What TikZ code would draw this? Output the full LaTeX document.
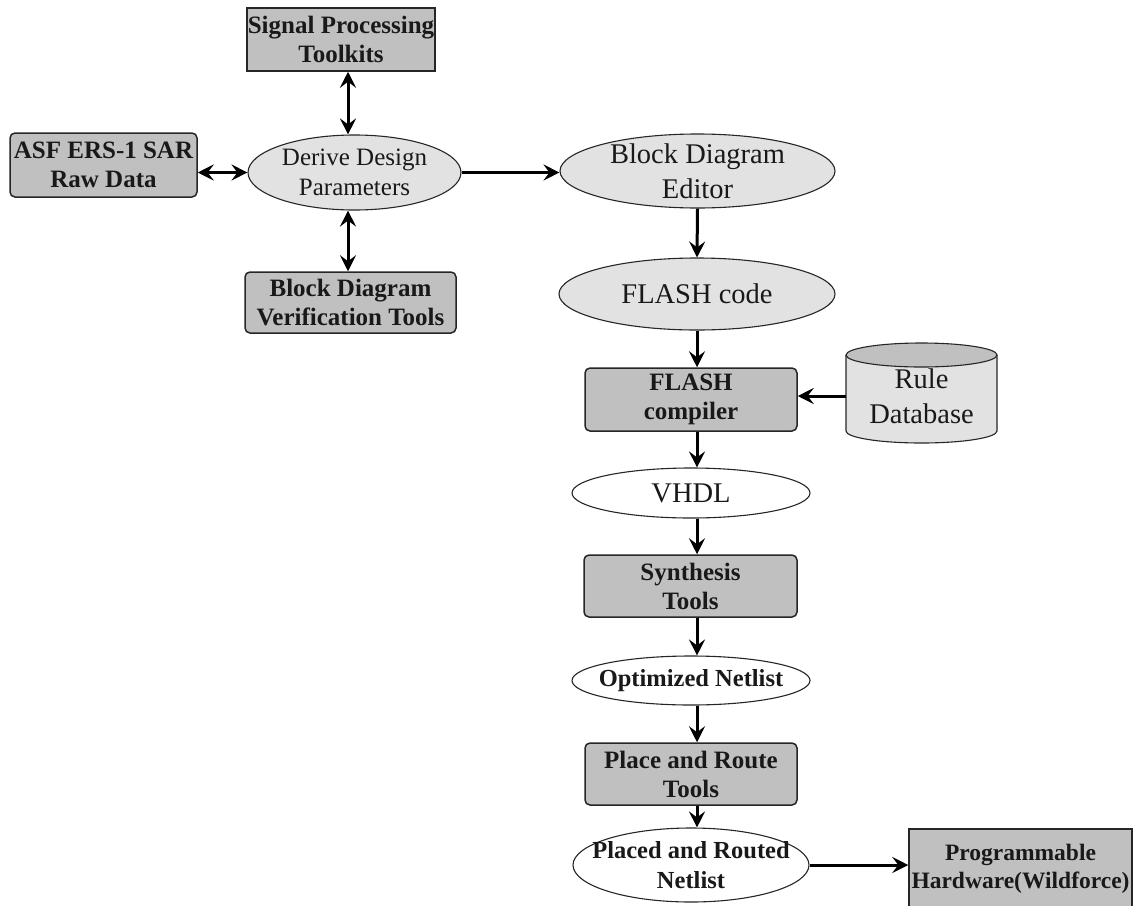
\documentclass[tikz,border=0pt]{standalone}
\usepackage{fontspec}
\setmainfont{Liberation Serif}
\usetikzlibrary{shapes.geometric,arrows.meta}
\definecolor{boxgray}{RGB}{192,192,192}
\definecolor{dotgray}{RGB}{226,226,226}
\begin{document}
\begin{tikzpicture}[x=1pt,y=-1pt,
  box/.style={draw=black!85, line width=1.5pt, fill=boxgray, rounded corners=5pt,
    align=center, inner sep=0pt, text=black!90,
    font=\fontsize{25}{29}\selectfont\bfseries},
  sqbox/.style={box, rounded corners=0pt},
  oval/.style={ellipse, draw=black!85, line width=1.1pt, inner sep=0pt, fill=white},
  shaded/.style={fill=dotgray},
  labreg/.style={align=center, text=black!90, font=\fontsize{25}{30}\selectfont},
  lablarge/.style={align=center, text=black!90, font=\fontsize{28.5}{35}\selectfont},
  labbold/.style={align=center, text=black!90, font=\fontsize{24.5}{30}\selectfont\bfseries},
  tip/.tip={Stealth[length=16pt,width=16pt,inset=6pt]},
  arr/.style={line width=3pt, -tip},
  biarr/.style={line width=3pt, tip-tip},
]
\useasboundingbox (0,0) rectangle (1134,905);

% design-parameter cluster
\node[sqbox, minimum width=188pt, minimum height=63pt] (sig) at (341,39.5)
  {Signal Processing\\Toolkits};
\node[box, minimum width=187pt, minimum height=64pt] (asf) at (103.5,165)
  {ASF ERS-1 SAR\\Raw Data};
\node[oval, shaded, minimum width=213pt, minimum height=75pt,
  label={[labreg]center:{Derive Design\\Parameters}}] (derive) at (354.5,172.5) {};
\node[box, minimum width=211pt, minimum height=61pt] (bdv) at (350.5,302.5)
  {Block Diagram\\Verification Tools};

% main tool flow
\node[oval, shaded, minimum width=275pt, minimum height=74pt,
  label={[lablarge]center:{Block Diagram\\Editor}}] (editor) at (697.5,171) {};
\node[oval, shaded, minimum width=276pt, minimum height=72pt,
  label={[lablarge]center:{FLASH code}}] (flashcode) at (697,294) {};
\node[box, minimum width=212pt, minimum height=63pt] (flashcomp) at (691,399.5)
  {FLASH\\compiler};

% rule database cylinder
\fill[dotgray] (846,355) -- (846,431)
  arc[start angle=180, end angle=0, x radius=75.5, y radius=12] -- (997,355) -- cycle;
\draw[line width=1.1pt, draw=black!85] (846,355) -- (846,431)
  arc[start angle=180, end angle=0, x radius=75.5, y radius=12] -- (997,355);
\draw[line width=1.1pt, draw=black!85, fill=boxgray] (921.5,355) ellipse[x radius=75.5, y radius=12];
\node[lablarge, minimum width=151pt, inner sep=0pt] (rule) at (921.5,396)
  {Rule\\Database};

\node[oval, minimum width=238pt, minimum height=50pt,
  label={[lablarge]center:{VHDL}}] (vhdl) at (691,493) {};
\node[box, minimum width=213pt, minimum height=62pt] (synth) at (690.5,586)
  {Synthesis\\Tools};
\node[oval, minimum width=238pt, minimum height=49pt,
  label={[labbold]center:{Optimized Netlist}}] (opt) at (691,680.5) {};
\node[box, minimum width=212pt, minimum height=62pt] (place) at (691,774)
  {Place and Route\\Tools};
\node[oval, minimum width=236pt, minimum height=74pt,
  label={[labbold]center:{Placed and Routed\\Netlist}}] (placed) at (691,865) {};
\node[sqbox, minimum width=223pt, minimum height=80pt,
  font=\fontsize{23.5}{28}\selectfont\bfseries] (prog) at (1020.5,869)
  {Programmable\\Hardware(Wildforce)};

% connectors
\coordinate (vx) at (348,0);
\coordinate (col) at (697,0);
\draw[biarr] (sig.south -| vx) -- (derive.north -| vx);
\draw[biarr] (derive.south -| vx) -- (bdv.north -| vx);
\draw[biarr] (asf.east |- derive.west) -- (derive.west);
\draw[arr] (derive.east) -- (derive.east -| editor.west);
\draw[arr] (editor.south) -- (flashcode.north);
\draw[arr] (flashcode.south) -- (flashcode.south |- flashcomp.north);
\draw[arr] (rule.west) -- (rule.west -| flashcomp.east);
\draw[arr] (flashcomp.south -| col) -- (vhdl.north -| col);
\draw[arr] (vhdl.south -| col) -- (synth.north -| col);
\draw[arr] (synth.south -| col) -- (opt.north -| col);
\draw[arr] (opt.south -| col) -- (place.north -| col);
\draw[arr] (place.south -| col) -- (placed.north -| col);
\draw[arr] (placed.east) -- (placed.east -| prog.west);
\end{tikzpicture}
\end{document}
